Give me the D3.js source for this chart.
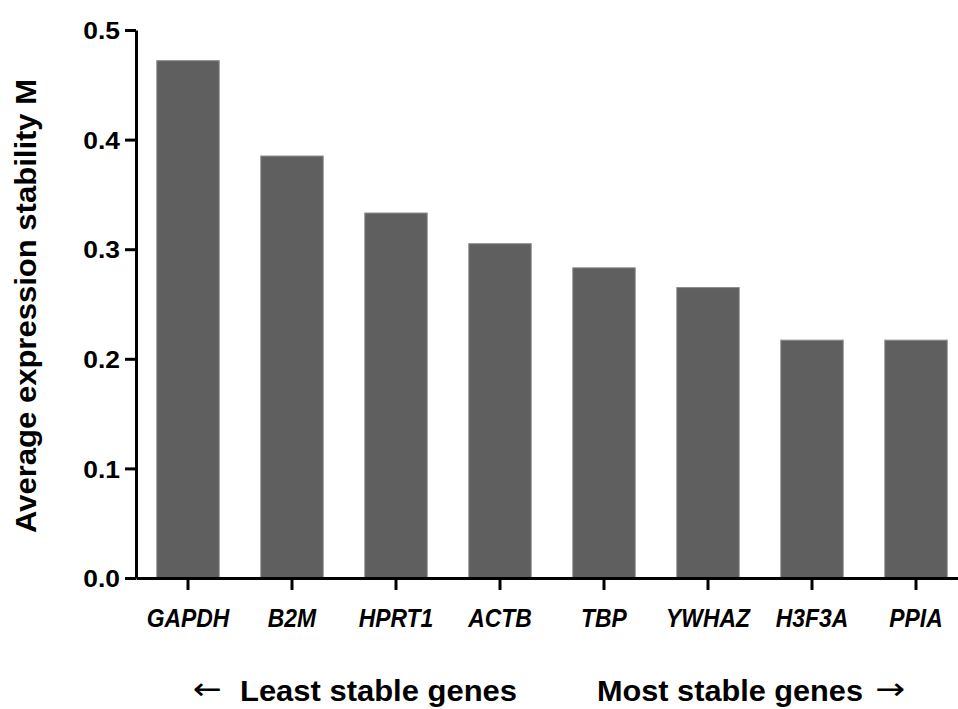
<!DOCTYPE html>
<html>
<head>
<meta charset="utf-8">
<script src="https://cdn.jsdelivr.net/npm/d3@7"></script>
<style>
  body { margin: 0; background: #fff; }
  svg text { font-family: "Liberation Sans", Arial, sans-serif; font-weight: bold; }
</style>
</head>
<body>
<div id="chart"></div>
<script>
// data
const genes = ["GAPDH", "B2M", "HPRT1", "ACTB", "TBP", "YWHAZ", "H3F3A", "PPIA"];
const stability = [0.472, 0.385, 0.333, 0.305, 0.283, 0.265, 0.217, 0.217];
const yTicks = [0.0, 0.1, 0.2, 0.3, 0.4, 0.5];

const w = 958, h = 709;
const margin = { top: 30, right: -10, bottom: 131, left: 136 };
const width = w - margin.left - margin.right,
      height = h - margin.top - margin.bottom;

// the original figure has its glyphs a bit stretched / squeezed, so widen or narrow text
function stretch(sel, factor) {
    sel.each(function () {
        const len = this.getComputedTextLength();
        d3.select(this)
            .attr("textLength", len * factor)
            .attr("lengthAdjust", "spacingAndGlyphs");
    });
}

const svg = d3.select("#chart")
    .append("svg")
    .attr("width", w)
    .attr("height", h);

const g = svg.append("g")
    .attr("transform", `translate(${margin.left}, ${margin.top})`);

const x = d3.scaleBand()
    .domain(genes)
    .range([0, width])
    .paddingInner(0.4)
    .paddingOuter(0.2);

const y = d3.scaleLinear()
    .domain([0, 0.5])
    .range([height, 0]);

// bars
g.selectAll("rect.bar")
    .data(genes)
    .enter()
    .append("rect")
    .attr("class", "bar")
    .attr("x", d => x(d))
    .attr("width", x.bandwidth())
    .attr("y", (d, i) => y(stability[i]))
    .attr("height", (d, i) => height - y(stability[i]))
    .attr("fill", "#5f5f5f")
    .attr("stroke", "#8a8a8a")
    .attr("stroke-width", 1);

// y axis
const yAxis = g.append("g")
    .call(d3.axisLeft(y).tickValues(yTicks).tickFormat(d3.format(".1f")).tickSize(11).tickSizeOuter(0));

// x axis
const xAxis = g.append("g")
    .attr("transform", `translate(0, ${height})`)
    .call(d3.axisBottom(x).tickSize(12).tickSizeOuter(0));

[yAxis, xAxis].forEach(a => {
    a.select(".domain").attr("stroke", "#000").attr("stroke-width", 3);
    a.selectAll(".tick line").attr("stroke", "#000").attr("stroke-width", 3);
});

yAxis.selectAll("text")
    .attr("fill", "#000")
    .style("font-size", "24px")
    .attr("x", -16)
    .attr("dy", "0.36em")
    .call(stretch, 1.1);

xAxis.selectAll("text")
    .attr("fill", "#000")
    .style("font-size", "26px")
    .style("font-style", "italic")
    .attr("y", 49)
    .attr("dy", 0)
    .call(stretch, 0.88);

// y axis title
svg.append("text")
    .attr("transform", "rotate(-90)")
    .attr("x", -306)
    .attr("y", 36)
    .attr("text-anchor", "middle")
    .style("font-size", "29px")
    .text("Average expression stability M")
    .call(stretch, 1.07);

// bottom annotations
svg.append("text")
    .attr("x", 193)
    .attr("y", 699)
    .style("font-family", "DejaVu Sans")
    .style("font-weight", "normal")
    .style("font-size", "30px")
    .text("\u2190")
    .attr("textLength", 29)
    .attr("lengthAdjust", "spacingAndGlyphs");

svg.append("text")
    .attr("x", 240)
    .attr("y", 701)
    .style("font-size", "30px")
    .text("Least stable genes")
    .attr("textLength", 277)
    .attr("lengthAdjust", "spacingAndGlyphs");

svg.append("text")
    .attr("x", 597)
    .attr("y", 701)
    .style("font-size", "30px")
    .text("Most stable genes")
    .attr("textLength", 266)
    .attr("lengthAdjust", "spacingAndGlyphs");

svg.append("text")
    .attr("x", 875)
    .attr("y", 699)
    .style("font-family", "DejaVu Sans")
    .style("font-weight", "normal")
    .style("font-size", "30px")
    .text("\u2192")
    .attr("textLength", 30)
    .attr("lengthAdjust", "spacingAndGlyphs");
</script>
</body>
</html>
